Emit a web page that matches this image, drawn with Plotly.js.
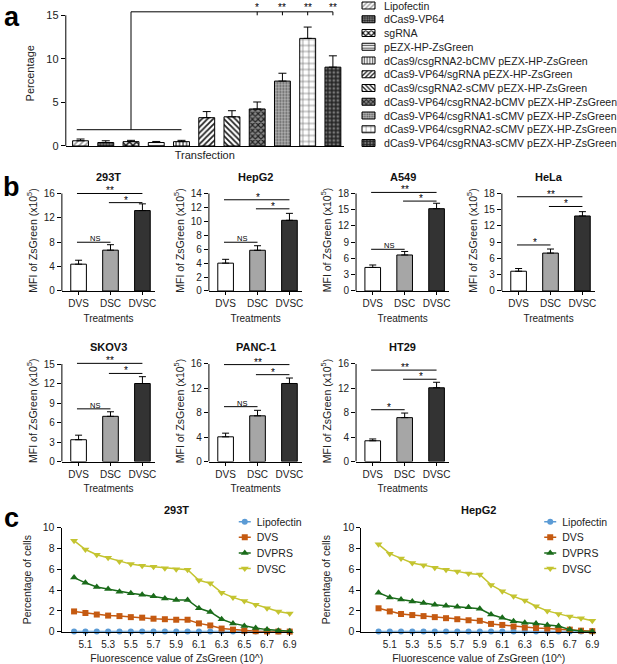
<!DOCTYPE html>
<html><head><meta charset="utf-8">
<script src="https://cdn.plot.ly/plotly-3.0.1.min.js"></script>
<style>html,body{margin:0;padding:0;background:#fff}#chart{width:617px;height:664px}</style>
</head><body><div id="chart"></div>
<script>
// ---------------- Panel a data ----------------
const transfections = ['Lipofectin','dCas9-VP64','sgRNA','pEZX-HP-ZsGreen',
  'dCas9/csgRNA2-bCMV pEZX-HP-ZsGreen','dCas9-VP64/sgRNA pEZX-HP-ZsGreen',
  'dCas9/csgRNA2-sCMV pEZX-HP-ZsGreen','dCas9-VP64/csgRNA2-bCMV pEZX-HP-ZsGreen',
  'dCas9-VP64/csgRNA1-sCMV pEZX-HP-ZsGreen','dCas9-VP64/csgRNA2-sCMV pEZX-HP-ZsGreen',
  'dCas9-VP64/csgRNA3-sCMV pEZX-HP-ZsGreen'];
const pctMean = [0.6, 0.4, 0.5, 0.4, 0.5, 3.25, 3.35, 4.25, 7.45, 12.35, 9.05];
const pctErr  = [0.2, 0.2, 0.15, 0.12, 0.15, 0.7, 0.7, 0.8, 0.9, 1.3, 1.3];
const aControlFrom = -0.15, aControlTo = 4, aControlLevel = 1.87, aControlStem = 2;
const aSigLevel = 15.4, aSigTickLow = 15.0;
const aSigBars = [7, 8, 9, 10];
const aSigLabels = ['*', '**', '**', '**'];

// ---------------- Panel b data ----------------
const treatments = ['DVS', 'DSC', 'DVSC'];
const cellLines = ['293T', 'HepG2', 'A549', 'HeLa', 'SKOV3', 'PANC-1', 'HT29'];
const mfiDVS  = [4.4, 4.0, 4.35, 3.65, 3.35, 4.05, 3.4];
const mfiDSC  = [6.7, 5.85, 6.65, 7.0, 6.95, 7.5, 7.2];
const mfiDVSC = [13.2, 10.15, 15.2, 13.85, 12.0, 12.8, 12.1];
const errDVS  = [0.65, 0.55, 0.45, 0.5, 0.7, 0.6, 0.3];
const errDSC  = [0.9, 0.65, 0.65, 0.75, 0.7, 0.9, 0.75];
const errDVSC = [1.1, 1.0, 1.0, 0.8, 1.05, 0.9, 0.9];
const sigDVSvsDSC   = [8.0, 7.0, 7.7, 8.5, 8.1, 9.0, 8.5];
const labDVSvsDSC   = ['NS', 'NS', 'NS', '*', 'NS', 'NS', '*'];
const sigDSCvsDVSC  = [14.5, 11.8, 16.6, 15.6, 13.55, 14.25, 13.5];
const labDSCvsDVSC  = ['*', '*', '*', '*', '*', '*', '*'];
const sigDVSvsDVSC  = [16.0, 13.1, 18.2, 17.4, 15.1, 15.9, 15.0];
const labDVSvsDVSC  = ['**', '*', '**', '**', '**', '**', '**'];
const bTopTick = [16, 14, 18, 18, 15, 16, 16];
const bDtick   = [4, 2, 3, 3, 3, 4, 4];

// ---------------- Panel c data ----------------
const fluor = [5.0, 5.1, 5.2, 5.3, 5.4, 5.5, 5.6, 5.7, 5.8, 5.9, 6.0, 6.1, 6.2, 6.3, 6.4, 6.5, 6.6, 6.7, 6.8, 6.9];
const cSeries = ['Lipofectin', 'DVS', 'DVPRS', 'DVSC'];
const t293Lipo  = [0.02,0.02,0.02,0.02,0.02,0.02,0.02,0.02,0.02,0.02,0.02,0.02,0.02,0.02,0.02,0.02,0.02,0.02,0.02,0.02];
const t293DVS   = [1.95,1.8,1.65,1.55,1.5,1.4,1.35,1.25,1.2,1.15,1.15,0.8,0.6,0.3,0.2,0.1,0.05,0.03,0.02,0.01];
const t293DVPRS = [5.2,4.7,4.3,4.1,3.85,3.7,3.55,3.4,3.2,3.05,3.05,2.25,1.9,1.2,0.8,0.55,0.35,0.2,0.1,0.05];
const t293DVSC  = [8.75,7.9,7.4,7.1,6.75,6.5,6.35,6.25,6.1,6.0,5.95,4.95,4.65,3.75,3.3,2.95,2.6,2.25,1.95,1.75];
const hepLipo   = [0.02,0.02,0.02,0.02,0.02,0.02,0.02,0.02,0.02,0.02,0.02,0.02,0.02,0.02,0.02,0.02,0.02,0.02,0.02,0.02];
const hepDVS    = [2.25,1.95,1.7,1.6,1.5,1.4,1.3,1.2,1.1,1.05,0.75,0.65,0.5,0.4,0.35,0.3,0.25,0.2,0.1,0.05];
const hepDVPRS  = [3.75,3.3,3.1,2.9,2.75,2.6,2.5,2.4,2.35,2.2,1.65,1.35,1.0,0.85,0.8,0.65,0.55,0.2,0.05,0.03];
const hepDVSC   = [8.4,7.5,7.05,6.6,6.4,6.15,5.95,5.8,5.6,5.5,4.5,3.9,3.4,3.0,2.45,2.0,1.7,1.45,1.3,1.05];

// ---------------- Styles / geometry ----------------
const W = 617, H = 664;
const FONT = 'Liberation Sans, Arial, sans-serif';
const xd = (a, b) => [a / W, b / W];
const yd = (bottom, top) => [1 - bottom / H, 1 - top / H];

const patterns = [
  {shape: '/', fgcolor: '#9a9a9a', bgcolor: '#ffffff', size: 4, solidity: 0.4},
  {shape: '.', fgcolor: '#222222', bgcolor: '#8a8a8a', size: 3, solidity: 0.5},
  {shape: 'x', fgcolor: '#111111', bgcolor: '#ffffff', size: 5, solidity: 0.5},
  {shape: '-', fgcolor: '#555555', bgcolor: '#ffffff', size: 3.5, solidity: 0.4},
  {shape: '|', fgcolor: '#555555', bgcolor: '#ffffff', size: 3.5, solidity: 0.4},
  {shape: '/', fgcolor: '#222222', bgcolor: '#ffffff', size: 4, solidity: 0.45},
  {shape: '\\', fgcolor: '#222222', bgcolor: '#ffffff', size: 4, solidity: 0.45},
  {shape: 'x', fgcolor: '#222222', bgcolor: '#888888', size: 4, solidity: 0.5},
  {shape: '.', fgcolor: '#555555', bgcolor: '#b5b5b5', size: 3, solidity: 0.4},
  {shape: '+', fgcolor: '#666666', bgcolor: '#ffffff', size: 6, solidity: 0.2},
  {shape: '+', fgcolor: '#222222', bgcolor: '#7a7a7a', size: 4, solidity: 0.6}
];
const treatColors = ['#ffffff', '#a6a6a6', '#333333'];
const cColors = ['#5b9bd5', '#c55a11', '#1a6b1a', '#c4c430'];
const cSymbols = ['circle', 'square', 'triangle-up', 'triangle-down'];

const traces = [];
const shapes = [];
const annotations = [];
const layout = {
  width: W, height: H, autosize: false,
  margin: {l: 0, r: 0, t: 0, b: 0},
  paper_bgcolor: '#fff', plot_bgcolor: 'rgba(0,0,0,0)',
  font: {family: FONT, size: 10, color: '#222'},
  barmode: 'overlay',
  showlegend: true,
  legend: {x: 344 / W, xanchor: 'left', y: 1, yanchor: 'top', bgcolor: 'rgba(0,0,0,0)',
           font: {size: 10.6, color: '#222'}, tracegroupgap: 0},
  legend2: {x: 220.7 / W, xanchor: 'left', y: 1 - 512 / H, yanchor: 'top', bgcolor: 'rgba(0,0,0,0)',
            font: {size: 10.5, color: '#222'}},
  legend3: {x: 531.7 / W, xanchor: 'left', y: 1 - 512 / H, yanchor: 'top', bgcolor: 'rgba(0,0,0,0)',
            font: {size: 10.5, color: '#222'}},
  shapes: shapes, annotations: annotations
};
const line = (xref, yref, x0, y0, x1, y1) => ({type: 'line', xref, yref, x0, y0, x1, y1,
  line: {color: '#000', width: 1}});
const yAxisBase = {showline: false, ticks: 'outside', ticklen: 4, tickwidth: 1, tickcolor: '#000',
  showgrid: false, zeroline: false, tickfont: {size: 10.5}};
const xAxisBase = {showline: true, linecolor: '#000', linewidth: 1, showgrid: false, zeroline: false};

// ---------------- Panel a ----------------
const aZeroPx = 146, aTopTickPx = 15.3, aTopTick = 15, aRangeTop = 16.7;
const aK = (aZeroPx - aTopTickPx) / aTopTick;
layout.xaxis = Object.assign({}, xAxisBase, {
  domain: xd(67, 350), anchor: 'y', type: 'category', range: [-0.584, 10.43],
  ticks: '', showticklabels: false,
  title: {text: 'Transfection', font: {size: 11}, standoff: 5}
});
layout.yaxis = Object.assign({}, yAxisBase, {
  domain: yd(aZeroPx, aZeroPx - aRangeTop * aK), anchor: 'x', range: [0, aRangeTop],
  tickvals: [0, 5, 10, 15], tickfont: {size: 11},
  title: {text: 'Percentage', font: {size: 11}}
});
transfections.forEach((name, i) => {
  traces.push({
    type: 'bar', name: name, x: [name], y: [pctMean[i]], xaxis: 'x', yaxis: 'y',
    width: 0.63, legend: 'legend',
    marker: {color: patterns[i].bgcolor, pattern: patterns[i], line: {color: '#000', width: 1}},
    error_y: {type: 'data', array: [pctErr[i]], arrayminus: [0], color: '#000', thickness: 1, width: 4}
  });
});
shapes.push(line('x domain', 'y', 0, 0, 0, aTopTick));
shapes.push(line('x', 'y', aControlFrom, aControlLevel, aControlTo, aControlLevel));
shapes.push(line('x', 'y', aControlStem, aControlLevel, aControlStem, aSigLevel));
shapes.push(line('x', 'y', aControlStem, aSigLevel, aSigBars[aSigBars.length - 1], aSigLevel));
aSigBars.forEach((b, k) => {
  shapes.push(line('x', 'y', b, aSigTickLow, b, aSigLevel));
  annotations.push({xref: 'x', yref: 'y', x: b, y: aSigLevel, text: aSigLabels[k], showarrow: false,
    yanchor: 'bottom', yshift: -3, font: {size: 10, color: '#000'}});
});

// ---------------- Panel b ----------------
const bColCenter = [80, 229.7, 379.5, 528];
const bRowZeroPx = [291, 461.5], bRowTopPx = [193.5, 364];
const bRowTitlePx = [177, 347];
const bPitch = 32.5;
cellLines.forEach((cell, i) => {
  const row = i < 4 ? 0 : 1, col = i < 4 ? i : i - 4;
  const n = i + 2, xa = 'x' + n, ya = 'y' + n;
  const c0 = bColCenter[col];
  const pb = bRowZeroPx[row], pt = bRowTopPx[row];
  const T = bTopTick[i];
  const R = Math.max(T, sigDVSvsDVSC[i]) * 1.035;
  const k = (pb - pt) / T;
  const ticks = [];
  for (let v = 0; v <= T + 1e-9; v += bDtick[i]) ticks.push(v);
  layout['xaxis' + n] = Object.assign({}, xAxisBase, {
    domain: xd(c0 - 17, c0 + 2 * bPitch + 13), anchor: ya, type: 'category',
    range: [-17 / bPitch, 2 + 13 / bPitch], ticks: 'outside', ticklen: 3, tickcolor: '#000',
    tickfont: {size: 10},
    title: {text: 'Treatments', font: {size: 10}, standoff: 6}
  });
  layout['yaxis' + n] = Object.assign({}, yAxisBase, {
    domain: yd(pb, pb - R * k), anchor: xa, range: [0, R], tickvals: ticks,
    tickfont: {size: 10},
    title: {text: 'MFI of ZsGreen (x10<sup>5</sup>)', font: {size: 10.5}, standoff: 4}
  });
  traces.push({
    type: 'bar', x: treatments, y: [mfiDVS[i], mfiDSC[i], mfiDVSC[i]], xaxis: xa, yaxis: ya,
    width: 0.49, showlegend: false,
    marker: {color: treatColors, line: {color: '#000', width: 1}},
    error_y: {type: 'data', array: [errDVS[i], errDSC[i], errDVSC[i]], arrayminus: [0, 0, 0],
              color: '#000', thickness: 1, width: 3.5}
  });
  shapes.push(line(xa + ' domain', ya, 0, 0, 0, T));
  const brackets = [[0, 1, sigDVSvsDSC[i], labDVSvsDSC[i]], [1, 2, sigDSCvsDVSC[i], labDSCvsDVSC[i]],
                    [0, 2, sigDVSvsDVSC[i], labDVSvsDVSC[i]]];
  brackets.forEach(([a, b, yv, lab]) => {
    shapes.push(line(xa, ya, a - 0.05, yv, b, yv));
    annotations.push({xref: xa, yref: ya, x: (a + b) / 2, y: yv, text: lab, showarrow: false,
      yanchor: 'bottom', yshift: lab === 'NS' ? -3 : -5,
      font: {size: lab === 'NS' ? 7.5 : 10, color: '#000'}});
  });
  annotations.push({xref: xa + ' domain', yref: 'paper', x: 0.5, y: 1 - bRowTitlePx[row] / H,
    text: '<b>' + cell + '</b>', showarrow: false, yanchor: 'middle', font: {size: 11, color: '#111'}});
});

// ---------------- Panel c ----------------
const cPanels = [
  {name: '293T', xa: 'x9', ya: 'y9', dom: [62.7, 297.3], range: [4.89, 6.92], legend: 'legend2',
   data: [t293Lipo, t293DVS, t293DVPRS, t293DVSC]},
  {name: 'HepG2', xa: 'x10', ya: 'y10', dom: [368, 606.7], range: [4.848, 6.932], legend: 'legend3',
   data: [hepLipo, hepDVS, hepDVPRS, hepDVSC]}
];
cPanels.forEach(p => {
  const n = p.xa.slice(1);
  layout['xaxis' + n] = Object.assign({}, xAxisBase, {
    domain: xd(p.dom[0], p.dom[1]), anchor: p.ya, range: p.range,
    tickvals: [5.1, 5.3, 5.5, 5.7, 5.9, 6.1, 6.3, 6.5, 6.7, 6.9], ticktext: ['5.1','5.3','5.5','5.7','5.9','6.1','6.3','6.5','6.7','6.9'],
    ticks: 'outside', ticklen: 3, tickcolor: '#000', tickfont: {size: 10},
    title: {text: 'Fluorescence value of ZsGreen (10^)', font: {size: 10.5}, standoff: 6}
  });
  layout['yaxis' + n] = Object.assign({}, yAxisBase, {
    showline: true, linecolor: '#000', linewidth: 1,
    domain: yd(631.7, 527.7), anchor: p.xa, range: [0, 10], tickvals: [0, 2, 4, 6, 8, 10],
    tickfont: {size: 10.5},
    title: {text: 'Percentage of cells', font: {size: 10.5}}
  });
  cSeries.forEach((s, j) => {
    traces.push({
      type: 'scatter', mode: 'lines+markers', name: s, x: fluor, y: p.data[j],
      xaxis: p.xa, yaxis: p.ya, legend: p.legend, cliponaxis: false,
      line: {color: cColors[j], width: 1.5},
      marker: {color: cColors[j], symbol: cSymbols[j], size: j >= 2 ? 7 : 6}
    });
  });
  annotations.push({xref: p.xa + ' domain', yref: 'paper', x: 0.5, y: 1 - 510 / H,
    text: '<b>' + p.name + '</b>', showarrow: false, yanchor: 'middle', font: {size: 11, color: '#111'}});
});

// ---------------- Panel letters ----------------
[['a', 12, 17], ['b', 12, 187], ['c', 12, 518]].forEach(([t, x, y]) => {
  annotations.push({xref: 'paper', yref: 'paper', x: x / W, y: 1 - y / H, text: '<b>' + t + '</b>',
    showarrow: false, xanchor: 'center', yanchor: 'middle', font: {size: 27, color: '#000'}});
});

function tuneLegend(cls, firstY, step, textX, dx, swatchD, lineD) {
  const root = document.querySelector('g.' + cls);
  if (!root) return;
  const items = root.querySelectorAll('g.traces');
  items.forEach((it, i) => {
    const m = /translate\(\s*([-\d.e]+)[ ,]+([-\d.e]+)\s*\)/.exec(it.getAttribute('transform') || '');
    let tx = m ? parseFloat(m[1]) : 0;
    if (textX != null) {
      const t = it.querySelector('text.legendtext');
      if (t) tx += textX - t.getBoundingClientRect().left;
    }
    const parentY = it.parentNode.getScreenCTM().f;
    it.setAttribute('transform', 'translate(' + tx + ',' + (firstY + i * step - parentY) + ')');
    const layers = it.querySelector('g.layers');
    if (layers && dx) layers.setAttribute('transform', 'translate(' + dx + ',0)');
    if (swatchD) it.querySelectorAll('g.legendpoints path').forEach(p => p.setAttribute('d', swatchD));
    if (lineD) it.querySelectorAll('g.legendlines path').forEach(p => p.setAttribute('d', lineD));
  });
}

Plotly.newPlot('chart', traces, layout, {staticPlot: true, displayModeBar: false}).then(() => {
  tuneLegend('legend', 5.5, 13.75, 384, 4.5, 'M6.5,3.5H-6.5V-3.5H6.5Z', null);
  tuneLegend('legend2', 521.7, 15.6, 260.7, 8, null, 'M14,0h12');
  tuneLegend('legend3', 521.7, 15.6, 571.7, 8, null, 'M14,0h12');
});
</script>
</body></html>
